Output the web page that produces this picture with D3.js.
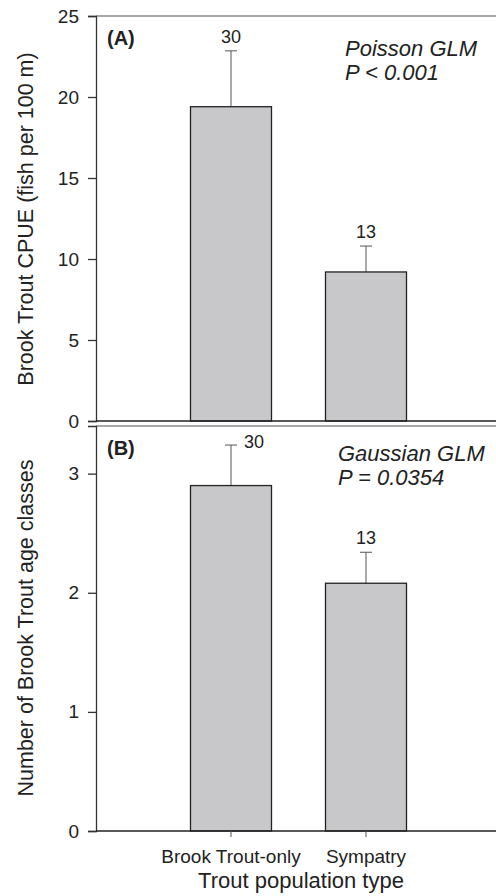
<!DOCTYPE html>
<html>
<head>
<style>
  body { margin: 0; background: #fff; font-family: Arial, "Liberation Sans", Helvetica, sans-serif; }
  svg text { fill: #222; }
</style>
<script src="https://cdn.jsdelivr.net/npm/d3@7"></script>
</head>
<body>
<svg id="chart"></svg>
<script>
// data
let groups = ["Brook Trout-only", "Sympatry"];
let cpueMean = [19.4, 9.2];
let cpueErr = [22.85, 10.8];
let ageMean = [2.9, 2.08];
let ageErr = [3.24, 2.34];
let sampleN = [30, 13];
let cpueTicks = [0, 5, 10, 15, 20, 25];
let ageTicks = [0, 1, 2, 3];

let width = 496, height = 896;
let svg = d3.select("#chart").attr("width", width).attr("height", height);

// x: categories sit at 1 and 2 on a 0..3 axis
let xPos = d3.scaleLinear().domain([0, 3]).range([96, 501]);
let barW = 81;

let panels = [
  { label: "(A)", means: cpueMean, errs: cpueErr, ticks: cpueTicks, domain: [0, 25], range: [421, 16],
    title: "Brook Trout CPUE (fish per 100 m)", stat: ["Poisson GLM", "P < 0.001"], statX: 345, statY: 56,
    nPos: "above", xTicks: false, labelY: 45, titleY: 219 },
  { label: "(B)", means: ageMean, errs: ageErr, ticks: ageTicks, domain: [0, 3.4], range: [831, 426],
    title: "Number of Brook Trout age classes", stat: ["Gaussian GLM", "P = 0.0354"], statX: 338, statY: 461,
    nPos: "mixed", xTicks: true, labelY: 455, titleY: 628 }
];

panels.forEach(p => {
  let y = d3.scaleLinear().domain(p.domain).range(p.range);
  let g = svg.append("g");

  // top frame line
  g.append("line")
    .attr("x1", 96).attr("x2", width)
    .attr("y1", y(p.domain[1])).attr("y2", y(p.domain[1]))
    .attr("stroke", "#8a8a8a").attr("stroke-width", 1.5);

  // error bars (upper only)
  p.means.forEach((m, i) => {
    let cx = xPos(i + 1);
    g.append("line").attr("x1", cx).attr("x2", cx)
      .attr("y1", y(m)).attr("y2", y(p.errs[i]))
      .attr("stroke", "#555").attr("stroke-width", 1);
    g.append("line").attr("x1", cx - 6).attr("x2", cx + 6)
      .attr("y1", y(p.errs[i])).attr("y2", y(p.errs[i]))
      .attr("stroke", "#555").attr("stroke-width", 1);
  });

  // bars
  g.selectAll("rect").data(p.means).enter().append("rect")
    .attr("x", (d, i) => xPos(i + 1) - barW / 2)
    .attr("width", barW)
    .attr("y", d => y(d))
    .attr("height", d => y(0) - y(d))
    .attr("fill", "#c8c8ca")
    .attr("stroke", "#222").attr("stroke-width", 1.3);

  // n labels
  p.errs.forEach((e, i) => {
    let cx = xPos(i + 1);
    let t = g.append("text").attr("font-size", 18).text(sampleN[i]);
    if (p.nPos === "mixed" && i === 0) {
      t.attr("x", cx + 13).attr("y", y(e) + 3);
    } else {
      t.attr("x", cx).attr("y", y(e) - 8).attr("text-anchor", "middle");
    }
  });

  // y axis
  let axisY = d3.axisLeft(y).tickValues(p.ticks).tickSize(8).tickPadding(9).tickFormat(d3.format("d"));
  let ay = g.append("g").attr("transform", "translate(96,0)").call(axisY);
  ay.select(".domain").attr("stroke", "#333").attr("stroke-width", 1.3);
  ay.selectAll(".tick line").attr("stroke", "#333").attr("stroke-width", 1.3);
  ay.selectAll(".tick text").attr("font-size", 19).attr("font-family", "Arial, 'Liberation Sans', sans-serif").attr("fill", "#222");

  // x axis line
  g.append("line").attr("x1", 96).attr("x2", width)
    .attr("y1", y(0)).attr("y2", y(0))
    .attr("stroke", "#222").attr("stroke-width", 1.5);
  if (p.xTicks) {
    groups.forEach((c, i) => {
      g.append("line").attr("x1", xPos(i + 1)).attr("x2", xPos(i + 1))
        .attr("y1", y(0)).attr("y2", y(0) + 6)
        .attr("stroke", "#555").attr("stroke-width", 1);
      g.append("text").attr("x", xPos(i + 1)).attr("y", y(0) + 32)
        .attr("text-anchor", "middle").attr("font-size", 19).text(c);
    });
  }

  // panel label
  g.append("text").attr("x", 107).attr("y", p.labelY)
    .attr("font-size", 20).attr("font-weight", "bold").text(p.label);

  // stats
  p.stat.forEach((s, k) => {
    g.append("text").attr("x", p.statX).attr("y", p.statY + k * 24)
      .attr("font-size", 22).attr("font-style", "italic").text(s);
  });

  // y title
  g.append("text")
    .attr("transform", `translate(33,${p.titleY}) rotate(-90)`)
    .attr("text-anchor", "middle").attr("font-size", 21.5).text(p.title);
});

svg.append("text").attr("x", 301).attr("y", 888)
  .attr("text-anchor", "middle").attr("font-size", 22).text("Trout population type");
</script>
</body>
</html>
